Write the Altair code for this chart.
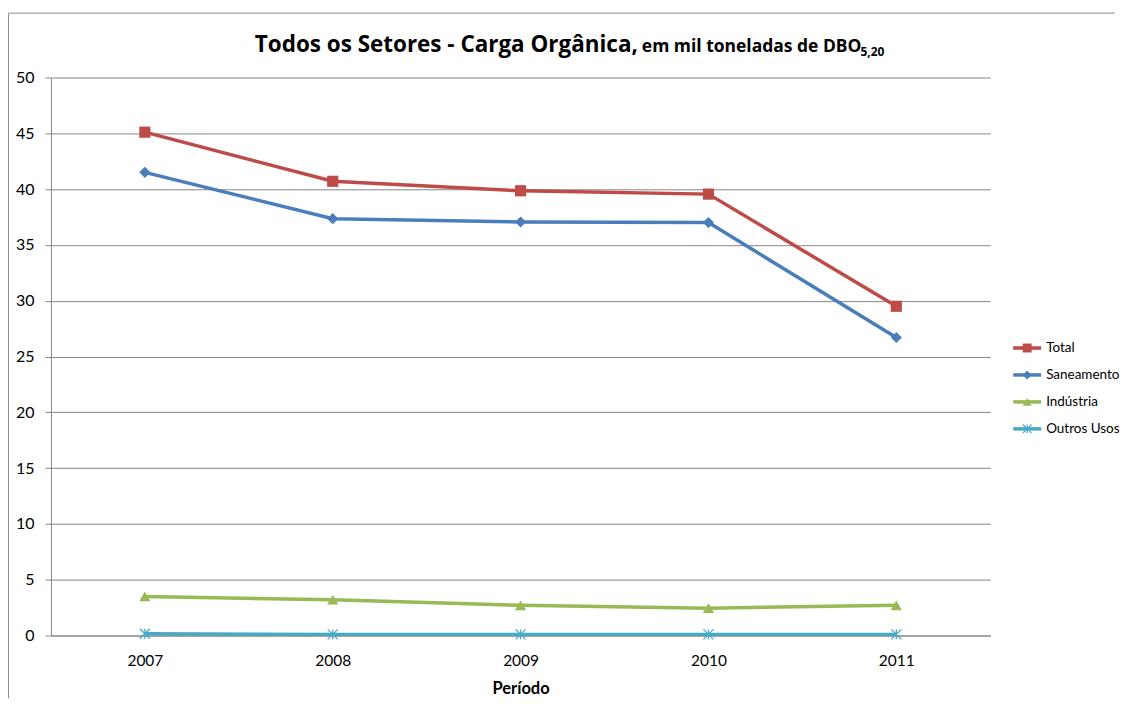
import altair as alt
import pandas as pd

# ---- data ----
years = ["2007", "2008", "2009", "2010", "2011"]
series = ["Total", "Saneamento", "Indústria", "Outros Usos"]
total = [45.1, 40.7, 39.85, 39.55, 29.5]
saneamento = [41.5, 37.35, 37.05, 37.0, 26.7]
industria = [3.5, 3.2, 2.7, 2.45, 2.7]
outros = [0.15, 0.1, 0.1, 0.1, 0.1]
y_ticks = [0, 5, 10, 15, 20, 25, 30, 35, 40, 45, 50]

title_main = "Todos os Setores - Carga Orgânica,"
title_unit = "em mil toneladas de DBO"
title_sub = "5,20"
x_title = "Período"

colors = ["#BE4B48", "#4A7EBB", "#98B954", "#46AAC5"]
shapes = ["square", "diamond", "triangle-up", "M-1,-1L1,1M-1,1L1,-1M0,-1L0,1"]

rows = []
for s, vals in zip(series, [total, saneamento, industria, outros]):
    for yr, v in zip(years, vals):
        rows.append({"ano": yr, "serie": s, "valor": v})
df = pd.DataFrame(rows)
leg = pd.DataFrame({"serie": series})
one = pd.DataFrame({"k": [0]})

FONT = "Lato"
TFONT = "Open Sans"
GRID = "#868686"

color = alt.Color("serie:N", scale=alt.Scale(domain=series, range=colors), legend=None)
shape = alt.Shape("serie:N", scale=alt.Scale(domain=series, range=shapes), legend=None)

X = alt.X(
    "ano:O",
    title=x_title,
    scale=alt.Scale(padding=0.5),
    axis=alt.Axis(
        labelAngle=0, ticks=False, domainColor=GRID, domainWidth=1,
        labelFont=FONT, labelFontSize=15.5, labelColor="black", labelPadding=18,
        titleFont=FONT, titleFontSize=16.5, titleFontWeight="bold", titleColor="black",
        titlePadding=12,
    ),
)
Y = alt.Y(
    "valor:Q",
    title=None,
    scale=alt.Scale(domain=[0, 50]),
    axis=alt.Axis(
        values=y_ticks, domainColor=GRID, domainWidth=1, tickColor=GRID, tickSize=6,
        gridColor=GRID, gridWidth=1, labelFont=FONT, labelFontSize=16,
        labelColor="black", labelPadding=11,
    ),
)

base = alt.Chart(df)
lines = base.mark_line(strokeWidth=3.5).encode(x=X, y=Y, color=color)
pts = (
    base.transform_filter(alt.datum.serie != "Outros Usos")
    .mark_point(filled=True, size=125, opacity=1)
    .encode(x=X, y=Y, color=color, shape=shape)
)
stars = (
    base.transform_filter(alt.datum.serie == "Outros Usos")
    .mark_point(filled=False, size=100, opacity=1, strokeWidth=1.3)
    .encode(x=X, y=Y, color=color, shape=shape)
)
main = alt.layer(lines, pts, stars)

LY = alt.Y(
    "serie:N",
    scale=alt.Scale(type="point", domain=series, range=[271, 352], padding=0),
    axis=None,
)
lbase = alt.Chart(leg)
l_rule = lbase.mark_rule(strokeWidth=3.5).encode(
    x=alt.value(964), x2=alt.value(992), y=LY, color=color
)
l_pts = (
    lbase.transform_filter(alt.datum.serie != "Outros Usos")
    .mark_point(filled=True, size=80, opacity=1)
    .encode(x=alt.value(978), y=LY, color=color, shape=shape)
)
l_star = (
    lbase.transform_filter(alt.datum.serie == "Outros Usos")
    .mark_point(filled=False, size=75, opacity=1, strokeWidth=1.2)
    .encode(x=alt.value(978), y=LY, color=color, shape=shape)
)
l_text = lbase.mark_text(
    align="left", baseline="middle", font=FONT, fontSize=13.5, color="black"
).encode(x=alt.value(997), y=LY, text="serie:N")
legend = alt.layer(l_rule, l_pts, l_star, l_text)

tbase = alt.Chart(one)
t1 = tbase.mark_text(
    align="right", baseline="alphabetic", font=TFONT, fontSize=22.5, fontWeight="bold", color="black"
).encode(x=alt.value(588), y=alt.value(-26), text=alt.value(title_main))
t2 = tbase.mark_text(
    align="left", baseline="alphabetic", font=TFONT, fontSize=17.5, fontWeight="bold", color="black"
).encode(x=alt.value(592), y=alt.value(-26), text=alt.value(title_unit))
t3 = tbase.mark_text(
    align="left", baseline="alphabetic", font=TFONT, fontSize=12, fontWeight="bold", color="black"
).encode(x=alt.value(811), y=alt.value(-22), text=alt.value(title_sub))

b_top = tbase.mark_rule(color="#8c8c8c", strokeWidth=1).encode(
    x=alt.value(-42.5), x2=alt.value(1066), y=alt.value(-64.5)
)
b_left = tbase.mark_rule(color="#8c8c8c", strokeWidth=1).encode(
    x=alt.value(-42.5), y=alt.value(-64.5), y2=alt.value(622)
)

chart = (
    alt.layer(main, legend, t1, t2, t3, b_top, b_left)
    .resolve_scale(y="independent")
    .properties(width=941, height=559, padding={"left": 0, "top": 4, "right": 0, "bottom": 0})
    .configure_view(stroke=None)
)

chart.save("out.html", embed_options={"renderer": "svg", "actions": False})
